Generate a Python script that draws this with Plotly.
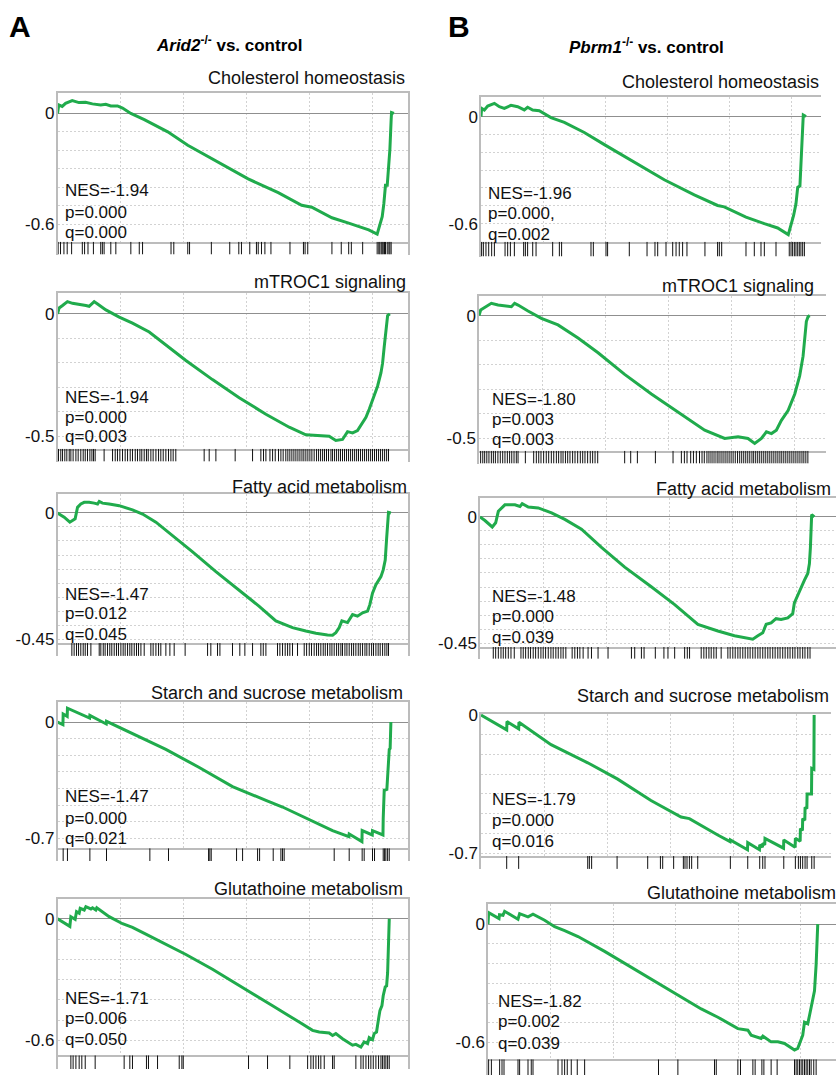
import plotly.graph_objects as go

W, H = 836, 1082
GREEN = "#20ab4c"
FONT = "Liberation Sans, Arial, Helvetica, sans-serif"

# ---------------- running enrichment scores (rank in thousands, ES) ----------------
# Arid2-/- vs. control
a1_rank = [0, 0.10, 0.37, 0.64, 1.17, 1.70, 2.23, 2.77, 3.43, 3.83, 4.23, 4.76, 5.16, 5.82, 6.89, 8.75,
           10.34, 12.74, 15.13, 17.52, 19.38, 20.18, 21.78, 23.11, 24.17, 24.70, 25.37, 25.55, 25.77,
           25.90, 26.03, 26.17, 26.30, 26.38, 26.48, 26.51, 26.70]
a1_es = [0, 0.046, 0.038, 0.055, 0.07, 0.059, 0.061, 0.052, 0.046, 0.05, 0.041, 0.041, 0.029, 0.0,
         -0.034, -0.10, -0.173, -0.266, -0.355, -0.43, -0.498, -0.509, -0.566, -0.595, -0.62, -0.632,
         -0.655, -0.614, -0.56, -0.49, -0.39, -0.39, -0.284, -0.195, -0.034, 0.005, 0.0]
a1_hits = [0.05, 0.24, 0.51, 0.77, 1.12, 1.97, 2.15, 2.42, 2.85, 3.43, 3.56, 3.70, 4.23, 4.63, 5.82,
           6.49, 6.75, 9.01, 9.23, 10.34, 10.48, 12.21, 13.67, 14.39, 14.60, 15.26, 15.79, 15.93,
           16.19, 16.46, 16.94, 18.45, 19.52, 19.65, 19.86, 21.78, 22.52, 23.11, 23.32, 24.22, 25.37,
           25.50, 25.58, 25.69, 25.77, 25.85, 25.95, 26.03, 26.17, 26.30, 26.38, 26.48]

a2_rank = [0, 0.13, 0.40, 0.79, 1.19, 1.72, 2.25, 2.51, 2.91, 3.18, 3.84, 4.90, 5.95, 7.28, 8.60,
           10.19, 12.30, 14.42, 16.54, 18.39, 19.71, 20.77, 21.56, 22.09, 22.62, 23.02, 23.42, 23.81,
           24.21, 24.48, 24.74, 25.13, 25.40, 25.67, 25.80, 25.93, 26.06, 26.20, 26.38]
a2_es = [0, 0.024, 0.034, 0.05, 0.043, 0.04, 0.034, 0.031, 0.05, 0.04, 0.016, -0.013, -0.038, -0.074,
         -0.127, -0.19, -0.268, -0.342, -0.409, -0.462, -0.493, -0.496, -0.499, -0.516, -0.512, -0.48,
         -0.485, -0.476, -0.442, -0.422, -0.389, -0.335, -0.295, -0.241, -0.201, -0.134, -0.067,
         -0.007, 0.0]
a2_hits = [0.08, 0.26, 0.40, 0.58, 0.74, 0.93, 1.06, 1.24, 1.46, 1.64, 1.85, 2.04, 2.20, 2.38, 2.57,
           2.73, 2.86, 2.99, 3.70, 4.37, 4.58, 4.76, 4.95, 5.16, 5.37, 5.56, 5.77, 5.95, 6.17, 6.35,
           6.54, 6.69, 6.88, 7.06, 7.20, 7.41, 7.59, 7.81, 8.02, 8.20, 8.39, 8.60, 8.81, 9.00, 9.18,
           9.39, 11.64, 12.04, 12.57, 14.10, 15.48, 16.14, 16.35, 16.54, 16.86, 17.07, 17.28, 17.54,
           17.73, 17.91, 18.12, 18.28, 18.44, 18.60, 18.76, 18.92, 19.08, 19.24, 19.40, 19.55, 19.71,
           19.87, 20.03, 20.19, 20.37, 20.56, 20.72, 20.88, 21.04, 21.19, 21.35, 21.51, 21.70, 21.83,
           21.99, 22.15, 22.31, 22.46, 22.62, 22.78, 22.94, 23.10, 23.26, 23.42, 23.58, 23.74, 23.89,
           24.05, 24.21, 24.37, 24.53, 24.69, 24.85, 25.00, 25.16, 25.32, 25.48, 25.64, 25.80, 25.96,
           26.12, 26.27]

a3_rank = [0, 0.53, 0.98, 1.24, 1.40, 1.59, 1.85, 2.12, 2.51, 2.91, 3.18, 3.31, 3.57, 4.10, 4.90,
           5.95, 6.75, 7.81, 9.13, 10.72, 12.57, 14.42, 16.01, 17.33, 18.65, 19.71, 20.51, 21.43,
           21.83, 22.09, 22.36, 22.57, 23.02, 23.42, 23.81, 24.21, 24.61, 24.79, 25.00, 25.27, 25.67,
           25.85, 26.01, 26.12, 26.20, 26.27, 26.46]
a3_es = [0, -0.015, -0.033, -0.027, -0.021, 0.02, 0.032, 0.038, 0.038, 0.035, 0.032, 0.041, 0.035,
         0.032, 0.026, 0.011, -0.004, -0.033, -0.08, -0.139, -0.209, -0.274, -0.333, -0.385, -0.409,
         -0.421, -0.429, -0.435, -0.436, -0.427, -0.409, -0.385, -0.391, -0.362, -0.368, -0.356,
         -0.35, -0.327, -0.286, -0.256, -0.227, -0.203, -0.168, -0.092, -0.025, 0.002, 0.0]
a3_hits = [1.14, 1.32, 1.51, 1.67, 1.85, 2.04, 2.20, 2.38, 2.65, 3.31, 3.44, 3.63, 3.78, 3.97, 4.15,
           4.31, 4.50, 4.68, 4.84, 5.03, 5.21, 5.37, 5.56, 5.74, 5.90, 6.09, 6.27, 6.43, 6.62, 6.88,
           7.41, 7.59, 7.81, 8.02, 8.20, 8.60, 8.92, 9.26, 10.13, 11.91, 12.17, 12.70, 12.89, 13.89,
           14.47, 14.87, 15.48, 16.14, 16.33, 16.54, 17.46, 17.65, 17.86, 18.07, 18.26, 18.44, 18.65,
           19.05, 19.58, 19.77, 19.98, 20.16, 20.37, 20.56, 20.72, 20.90, 21.09, 21.25, 21.43, 21.62,
           21.78, 21.96, 22.15, 22.31, 22.49, 22.62, 22.81, 22.97, 23.15, 23.34, 23.50, 23.68, 23.87,
           24.03, 24.21, 24.40, 24.55, 24.74, 24.93, 25.08, 25.27, 25.45, 25.61, 25.80, 25.98, 26.14,
           26.27]

a4_rank = [0, 0.43, 0.45, 0.77, 0.79, 2.55, 2.57, 3.87, 3.89, 7.28, 8.60, 11.25, 13.89, 16.54, 17.86,
           21.83, 23.13, 23.15, 24.16, 24.18, 24.98, 25.0, 25.83, 25.85, 25.93, 26.14, 26.20, 26.27,
           26.33, 26.40, 26.46]
a4_es = [0, -0.016, 0.048, 0.034, 0.083, 0.024, 0.04, -0.012, 0.004, -0.115, -0.165, -0.274, -0.389,
         -0.472, -0.512, -0.654, -0.69, -0.675, -0.72, -0.654, -0.68, -0.654, -0.68, -0.581, -0.412,
         -0.406, -0.343, -0.254, -0.165, -0.159, 0.0]
a4_hits = [0.45, 0.79, 2.57, 3.89, 7.33, 8.81, 11.99, 12.09, 12.20, 14.21, 14.69, 15.88, 16.04, 17.12,
           17.73, 17.86, 17.99, 21.96, 23.15, 24.18, 24.34, 25.0, 25.16, 25.85, 25.96, 26.06, 26.20,
           26.33]

a5_rank = [0, 0.98, 1.06, 1.40, 1.51, 1.72, 1.80, 2.12, 2.25, 2.65, 2.78, 3.04, 3.12, 4.10, 5.16,
           5.95, 7.01, 8.07, 10.19, 12.30, 14.95, 17.07, 19.18, 20.24, 20.77, 21.56, 21.83, 22.09,
           22.62, 23.42, 23.68, 24.08, 24.34, 24.61, 24.74, 25.00, 25.13, 25.32, 25.48, 25.59, 25.75,
           25.85, 26.01, 26.12, 26.20, 26.27, 26.33]
a5_es = [0, -0.037, 0.011, -0.002, 0.036, 0.028, 0.052, 0.044, 0.06, 0.049, 0.055, 0.044, 0.055,
         0.011, -0.024, -0.042, -0.075, -0.108, -0.176, -0.249, -0.347, -0.429, -0.51, -0.551, -0.559,
         -0.564, -0.576, -0.567, -0.592, -0.624, -0.62, -0.633, -0.608, -0.616, -0.587, -0.597,
         -0.567, -0.559, -0.494, -0.453, -0.429, -0.38, -0.336, -0.331, -0.266, -0.111, 0.0]
a5_hits = [1.06, 1.24, 1.46, 1.72, 1.93, 2.20, 2.99, 5.29, 5.74, 5.95, 7.06, 7.22, 7.94, 9.66, 9.87,
           9.98, 15.16, 16.67, 18.44, 19.85, 20.11, 20.30, 20.51, 20.72, 20.90, 21.17, 21.83, 21.96,
           23.68, 24.08, 24.26, 24.48, 24.69, 24.87, 25.06, 25.27, 25.48, 25.67, 25.80, 25.93, 26.06,
           26.20, 26.33]

# Pbrm1-/- vs. control
b1_rank = [0, 0.05, 0.27, 0.54, 1.08, 1.48, 1.88, 2.42, 2.96, 3.49, 3.76, 4.17, 4.70, 5.64, 6.72,
           8.33, 9.95, 12.36, 14.78, 17.20, 19.08, 19.62, 21.37, 22.85, 23.92, 24.78, 25.00, 25.21,
           25.40, 25.54, 25.72, 25.80, 25.86, 25.94, 25.99, 26.21]
b1_es = [0, 0.046, 0.037, 0.059, 0.074, 0.055, 0.046, 0.063, 0.055, 0.037, 0.052, 0.037, 0.033,
         -0.006, -0.033, -0.089, -0.157, -0.255, -0.354, -0.439, -0.498, -0.506, -0.563, -0.60,
         -0.624, -0.661, -0.609, -0.554, -0.489, -0.397, -0.388, -0.268, -0.166, -0.028, 0.009, 0.0]
b1_hits = [0.05, 0.19, 0.40, 0.62, 0.86, 1.08, 1.94, 2.15, 2.37, 2.69, 3.44, 3.58, 3.76, 4.17, 4.44,
           5.78, 6.32, 6.50, 8.87, 9.06, 10.08, 10.21, 11.96, 13.39, 14.03, 14.25, 14.92, 15.46,
           15.73, 15.99, 16.26, 16.61, 18.06, 19.08, 19.22, 19.41, 21.37, 22.04, 22.58, 22.85, 23.79,
           24.86, 25.0, 25.13, 25.27, 25.40, 25.54, 25.67, 25.80, 25.94, 26.08]

b2_rank = [0, 0.13, 0.32, 0.71, 0.98, 1.51, 2.04, 2.57, 2.83, 3.10, 3.89, 4.95, 6.27, 7.86, 9.45,
           11.56, 13.68, 15.80, 17.91, 19.50, 20.56, 21.35, 21.88, 22.41, 22.81, 23.21, 23.60, 24.00,
           24.53, 25.06, 25.45, 25.72, 25.85, 25.98, 26.12, 26.25]
b2_es = [0, 0.023, 0.029, 0.043, 0.05, 0.043, 0.039, 0.036, 0.05, 0.043, 0.019, -0.011, -0.038,
         -0.091, -0.151, -0.239, -0.319, -0.393, -0.466, -0.50, -0.493, -0.50, -0.52, -0.50, -0.473,
         -0.48, -0.466, -0.426, -0.386, -0.319, -0.245, -0.165, -0.105, -0.024, -0.004, 0.0]
b2_hits = [0.13, 0.30, 0.45, 0.62, 0.79, 0.98, 1.14, 1.30, 1.50, 1.69, 1.88, 2.06, 2.25, 2.43, 2.60,
           2.78, 2.96, 3.10, 3.68, 4.34, 4.55, 4.74, 4.92, 5.13, 5.34, 5.53, 5.74, 5.93, 6.14, 6.32,
           6.51, 6.67, 6.86, 7.04, 7.22, 7.43, 7.62, 7.83, 8.04, 8.23, 8.41, 8.62, 8.83, 9.02, 9.21,
           9.42, 11.56, 12.04, 12.57, 14.00, 15.40, 16.06, 16.30, 16.51, 16.80, 17.02, 17.25, 17.50,
           17.70, 17.88, 18.09, 18.25, 18.41, 18.57, 18.73, 18.90, 19.05, 19.21, 19.37, 19.53, 19.69,
           19.85, 20.01, 20.17, 20.34, 20.52, 20.69, 20.85, 21.01, 21.17, 21.33, 21.49, 21.66, 21.80,
           21.96, 22.12, 22.28, 22.44, 22.60, 22.76, 22.92, 23.08, 23.24, 23.40, 23.56, 23.72, 23.88,
           24.03, 24.19, 24.35, 24.51, 24.67, 24.83, 24.99, 25.15, 25.31, 25.47, 25.63, 25.78, 25.94,
           26.10]

b3_rank = [0, 0.39, 0.97, 1.24, 1.45, 1.71, 1.97, 2.76, 3.16, 3.34, 3.82, 4.61, 5.66, 6.71, 8.03,
           9.61, 11.45, 13.55, 15.40, 17.24, 18.82, 20.13, 21.06, 21.58, 21.98, 22.37, 22.64, 23.03,
           23.42, 23.82, 24.35, 24.74, 24.87, 25.14, 25.40, 25.66, 25.93, 26.06, 26.14, 26.19, 26.24,
           26.45]
b3_es = [0, -0.013, -0.036, -0.021, 0.02, 0.032, 0.043, 0.043, 0.037, 0.047, 0.035, 0.032, 0.014,
         -0.009, -0.044, -0.109, -0.179, -0.249, -0.313, -0.383, -0.407, -0.424, -0.43, -0.436,
         -0.424, -0.413, -0.383, -0.378, -0.363, -0.366, -0.36, -0.345, -0.307, -0.278, -0.249,
         -0.226, -0.202, -0.167, -0.109, -0.033, 0.008, 0.0]
b3_hits = [1.05, 1.24, 1.45, 1.66, 1.84, 2.03, 2.24, 2.45, 2.71, 3.24, 3.42, 3.61, 3.82, 4.00, 4.21,
           4.40, 4.61, 4.82, 5.00, 5.19, 5.40, 5.61, 5.79, 6.00, 6.19, 6.40, 6.58, 6.79, 7.29, 7.50,
           7.71, 7.90, 8.16, 8.55, 8.82, 9.34, 10.13, 11.98, 12.24, 12.77, 12.98, 13.87, 14.55,
           14.87, 15.40, 16.19, 16.40, 16.58, 17.50, 17.71, 17.90, 18.11, 18.29, 18.50, 18.69, 19.08,
           19.61, 19.79, 20.00, 20.19, 20.40, 20.58, 20.79, 20.98, 21.19, 21.37, 21.58, 21.77, 21.98,
           22.16, 22.37, 22.56, 22.77, 22.95, 23.16, 23.35, 23.56, 23.74, 23.95, 24.14, 24.35, 24.53,
           24.74, 24.92, 25.14, 25.32, 25.53, 25.71, 25.93, 26.11]

b4_rank = [0, 2.04, 2.06, 2.99, 3.01, 5.56, 8.47, 10.85, 13.49, 15.88, 16.54, 17.20, 18.79, 19.77,
           19.79, 21.15, 21.17, 22.10, 22.12, 22.34, 22.36, 22.52, 22.54, 24.01, 24.03, 24.93, 24.95,
           25.33, 25.35, 25.51, 25.53, 25.70, 25.72, 25.86, 25.88, 26.23, 26.25, 26.42, 26.44]
b4_es = [0, -0.075, -0.033, -0.07, -0.037, -0.15, -0.242, -0.325, -0.433, -0.517, -0.525, -0.55,
         -0.608, -0.642, -0.633, -0.683, -0.647, -0.683, -0.658, -0.67, -0.65, -0.658, -0.625,
         -0.675, -0.633, -0.67, -0.625, -0.64, -0.575, -0.585, -0.525, -0.533, -0.467, -0.475,
         -0.40, -0.40, -0.27, -0.275, 0.0]
b4_hits = [2.04, 2.99, 8.47, 8.60, 8.78, 10.80, 13.23, 14.24, 14.42, 15.29, 16.06, 16.19, 16.35,
           16.54, 16.72, 17.20, 19.79, 21.17, 22.12, 22.36, 22.54, 24.03, 24.95, 25.19, 25.35, 25.53,
           25.72, 25.88, 26.25, 26.44]

b5_rank = [0, 0.05, 0.88, 0.92, 1.20, 1.33, 2.40, 2.53, 3.20, 3.33, 3.60, 4.53, 5.33, 6.13, 7.20,
           9.33, 11.73, 14.39, 17.06, 18.39, 19.99, 20.79, 21.05, 21.85, 21.99, 22.65, 23.19, 23.72,
           24.52, 24.78, 25.05, 25.18, 25.32, 25.58, 25.72, 25.98, 26.12, 26.25, 26.33, 26.38]
b5_es = [0, 0.058, 0.028, 0.048, 0.045, 0.065, 0.025, 0.053, 0.037, 0.042, 0.05, 0.02, -0.013,
         -0.033, -0.063, -0.138, -0.23, -0.33, -0.43, -0.472, -0.53, -0.538, -0.563, -0.58, -0.568,
         -0.597, -0.597, -0.605, -0.638, -0.63, -0.588, -0.563, -0.497, -0.505, -0.463, -0.388,
         -0.338, -0.205, -0.097, 0.0]
b5_hits = [0.05, 0.27, 0.93, 1.12, 1.28, 2.40, 2.53, 3.20, 3.46, 3.60, 5.60, 5.92, 6.13, 6.34, 6.66,
           7.14, 7.73, 13.64, 15.19, 18.12, 18.26, 19.99, 20.20, 21.19, 21.37, 21.91, 22.07, 22.65,
           23.13, 24.52, 24.65, 24.78, 24.92, 25.05, 25.18, 25.32, 25.45, 25.58, 25.72, 25.85, 26.06,
           26.25]

# ---------------- labels ----------------
gene_sets = ["Cholesterol homeostasis", "mTROC1 signaling", "Fatty acid metabolism",
             "Starch and sucrose metabolism", "Glutathoine metabolism"]
a_stats = [["NES=-1.94", "p=0.000", "q=0.000"],
           ["NES=-1.94", "p=0.000", "q=0.003"],
           ["NES=-1.47", "p=0.012", "q=0.045"],
           ["NES=-1.47", "p=0.000", "q=0.021"],
           ["NES=-1.71", "p=0.006", "q=0.050"]]
b_stats = [["NES=-1.96", "p=0.000,", "q=0.002"],
           ["NES=-1.80", "p=0.003", "q=0.003"],
           ["NES=-1.48", "p=0.000", "q=0.039"],
           ["NES=-1.79", "p=0.000", "q=0.016"],
           ["NES=-1.82", "p=0.002", "q=0.039"]]
a_low_ticks = [-0.6, -0.5, -0.45, -0.7, -0.6]
b_low_ticks = [-0.6, -0.5, -0.45, -0.7, -0.6]

series = [(a1_rank, a1_es, a1_hits), (a2_rank, a2_es, a2_hits), (a3_rank, a3_es, a3_hits),
          (a4_rank, a4_es, a4_hits), (a5_rank, a5_es, a5_hits),
          (b1_rank, b1_es, b1_hits), (b2_rank, b2_es, b2_hits), (b3_rank, b3_es, b3_hits),
          (b4_rank, b4_es, b4_hits), (b5_rank, b5_es, b5_hits)]

# ---------------- panel geometry (pixels) ----------------
# left, right, px per 5k ranks, top, bottom, strip bottom, y-min, y-max, grid step, right frame
geom = [
    (57.5, 408, 63.0, 86, 237, 250, -0.696, 0.112, 0.10, True),
    (57.5, 408, 63.0, 289, 447, 460, -0.550, 0.085, 0.10, True),
    (57.5, 408, 63.0, 493, 644, 657, -0.464, 0.067, 0.05, True),
    (57.5, 408, 63.0, 704, 852, 865, -0.760, 0.119, 0.10, True),
    (57.5, 408, 63.0, 904, 1062, 1076, -0.674, 0.096, 0.10, True),
    (481, 821, 62.0, 90, 237, 252, -0.701, 0.111, 0.10, False),
    (479, 826, 63.0, 292, 449, 462, -0.550, 0.080, 0.10, False),
    (480, 836, 63.2, 497, 648, 660, -0.464, 0.067, 0.05, False),
    (481, 831, 63.0, 716, 860, 873, -0.715, 0.005, 0.10, False),
    (488, 836, 62.5, 909, 1066, 1082, -0.685, 0.100, 0.10, False),
]
title_pos = [(407, 71), (408, 278), (409, 486), (405, 695), (405, 893),
             (821, 75), (816, 282), (833, 488), (831, 698), (838, 897)]
stats_pos = [(63, [185, 207, 228]), (63, [395, 415, 435]), (63, [595, 614, 635]),
             (63, [800, 822, 842]), (63, [1004, 1025, 1046]),
             (486, [188, 208, 230]), (490, [397, 417, 438]), (490, [597, 617, 638]),
             (490, [803, 824, 845]), (496, [1007, 1028, 1050])]

FRAME = "#bcbcbc"
GRID = "#d2d2d2"

fig = go.Figure()
layout = {}
annotations = []


def px(x):
    return x / W


def py(y):
    return 1 - y / H


lows = a_low_ticks + b_low_ticks
stats = a_stats + b_stats

for i, ((rank, es, hits), g) in enumerate(zip(series, geom)):
    left, right, step_px, top, bottom, strip, ymin, ymax, ystep, frame_r = g
    xmax = (right - left) / step_px * 5
    k1, k2 = 2 * i + 1, 2 * i + 2
    low = lows[i]

    # enrichment score curve
    fig.add_trace(go.Scatter(x=rank, y=es, mode="lines",
                             line=dict(color=GREEN, width=3),
                             xaxis=f"x{k1}", yaxis=f"y{k1}", hoverinfo="skip"))
    # hit positions
    hx, hy = [], []
    for h in hits:
        hx += [h, h, None]
        hy += [0, 1, None]
    fig.add_trace(go.Scatter(x=hx, y=hy, mode="lines",
                             line=dict(color="#111111", width=1),
                             xaxis=f"x{k2}", yaxis=f"y{k2}", hoverinfo="skip"))

    n = int(round(-ymin / ystep + 1e-6))
    grid_vals = [round(-j * ystep, 3) for j in range(1, n + 1)]

    dom_x = [px(left), min(px(right), 1.0)]
    layout[f"xaxis{k1}"] = dict(domain=dom_x, range=[0, xmax], anchor=f"y{k1}",
                                tickvals=[5, 10, 15, 20, 25], showticklabels=False, ticks="",
                                showgrid=True, gridcolor=GRID, griddash="2px,2px", gridwidth=1,
                                zeroline=False, showline=True, linecolor=FRAME, linewidth=1.5,
                                mirror=True)
    layout[f"yaxis{k1}"] = dict(domain=[py(bottom), py(top)], range=[ymin, ymax],
                                anchor=f"x{k1}", tickvals=[low, 0],
                                ticktext=[f"{low:g}", "0"], ticks="",
                                tickfont=dict(size=17, color="#111", family=FONT),
                                showgrid=True, gridcolor=GRID, griddash="2px,2px", gridwidth=1,
                                minor=dict(tickmode="array", tickvals=grid_vals, showgrid=True,
                                           gridcolor=GRID, griddash="2px,2px", gridwidth=1,
                                           ticks=""),
                                zeroline=True, zerolinecolor="#8f8f8f", zerolinewidth=1,
                                showline=True, linecolor=FRAME, linewidth=1.5,
                                mirror=frame_r, ticklabelstandoff=-2)
    layout[f"xaxis{k2}"] = dict(domain=dom_x, range=[0, xmax], anchor=f"y{k2}",
                                showticklabels=False, ticks="", showgrid=False,
                                zeroline=False, showline=False)
    layout[f"yaxis{k2}"] = dict(domain=[py(strip), py(bottom)], range=[0, 1], anchor=f"x{k2}",
                                showticklabels=False, ticks="", showgrid=False, zeroline=False,
                                showline=True, linecolor=FRAME, linewidth=1.5, mirror=frame_r)

    tx, ty = title_pos[i]
    annotations.append(dict(x=px(tx), y=py(ty), xref="paper", yref="paper", xanchor="right",
                            yanchor="middle", text=gene_sets[i % 5], showarrow=False,
                            font=dict(size=18, color="#111", family=FONT)))
    sx, sys_ = stats_pos[i]
    for line, yy in zip(stats[i], sys_):
        annotations.append(dict(x=px(sx), y=py(yy), xref="paper", yref="paper", xanchor="left",
                                yanchor="middle", text=line, showarrow=False,
                                font=dict(size=17, color="#111", family=FONT)))

# panel letters and column headers
for letter, x in (("A", 19.5), ("B", 459)):
    annotations.append(dict(x=px(x), y=py(19), xref="paper", yref="paper", xanchor="center",
                            yanchor="middle", text=letter, showarrow=False,
                            font=dict(size=30, color="#000", family=FONT, weight="bold")))
for head, x, y in (("Arid2", 229, 36), ("Pbrm1", 646, 39)):
    annotations.append(dict(x=px(x), y=py(y), xref="paper", yref="paper", xanchor="center",
                            yanchor="middle",
                            text=f"<i>{head}</i><sup>-/-</sup> vs. control",
                            showarrow=False,
                            font=dict(size=17, color="#000", family=FONT, weight="bold")))

fig.update_layout(width=W, height=H, margin=dict(l=0, r=0, t=0, b=0),
                  paper_bgcolor="white", plot_bgcolor="white", showlegend=False,
                  font=dict(family=FONT, size=17, color="#111"),
                  annotations=annotations, **layout)

fig.write_html("out.html")
